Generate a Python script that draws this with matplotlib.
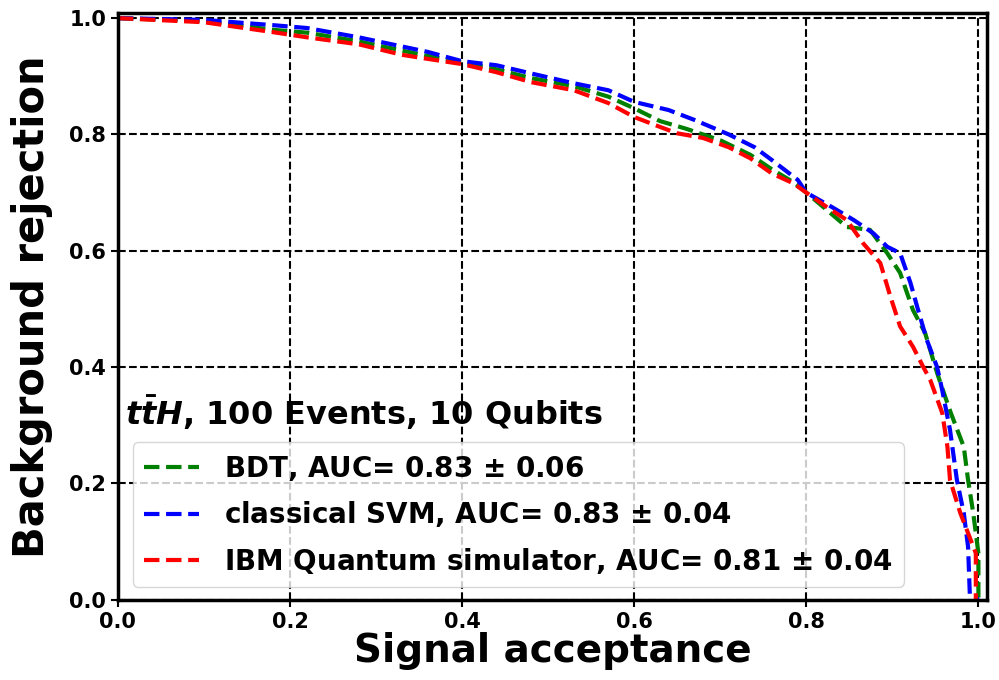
import matplotlib
matplotlib.use("Agg")
import matplotlib.pyplot as plt

plt.rcParams['mathtext.fontset'] = 'custom'
plt.rcParams['mathtext.it'] = 'DejaVu Sans:italic:bold'
plt.rcParams['mathtext.rm'] = 'DejaVu Sans:bold'

# ROC points (signal acceptance, background rejection)
bdt_x = [0, 0.10, 0.18, 0.22, 0.28, 0.36, 0.40, 0.44, 0.48, 0.53, 0.57, 0.60, 0.63, 0.66,
         0.70, 0.735, 0.76, 0.785, 0.80, 0.824, 0.847, 0.874, 0.894, 0.909, 0.924, 0.938,
         0.952, 0.96, 0.968, 0.983, 0.988, 0.994, 1.0, 1.0]
bdt_y = [1.0, 0.995, 0.98, 0.975, 0.96, 0.935, 0.924, 0.912, 0.897, 0.883, 0.865, 0.845,
         0.823, 0.81, 0.79, 0.765, 0.74, 0.718, 0.70, 0.67, 0.641, 0.636, 0.596, 0.562,
         0.498, 0.459, 0.39, 0.355, 0.321, 0.263, 0.206, 0.149, 0.08, 0.0]

svm_x = [0, 0.10, 0.18, 0.22, 0.28, 0.36, 0.40, 0.44, 0.48, 0.53, 0.57, 0.60, 0.64, 0.67,
         0.71, 0.74, 0.76, 0.79, 0.80, 0.83, 0.855, 0.878, 0.894, 0.909, 0.921, 0.929,
         0.94, 0.952, 0.958, 0.967, 0.975, 0.983, 0.988, 0.99, 1.0]
svm_y = [1.0, 0.997, 0.988, 0.983, 0.967, 0.942, 0.926, 0.919, 0.905, 0.888, 0.876, 0.856,
         0.842, 0.825, 0.80, 0.778, 0.756, 0.722, 0.70, 0.675, 0.653, 0.63, 0.607, 0.596,
         0.545, 0.503, 0.447, 0.40, 0.36, 0.292, 0.206, 0.149, 0.091, 0.01, 0.0]

ibm_x = [0, 0.10, 0.18, 0.22, 0.28, 0.33, 0.36, 0.40, 0.44, 0.48, 0.53, 0.57, 0.60, 0.63,
         0.65, 0.68, 0.71, 0.735, 0.76, 0.785, 0.80, 0.824, 0.847, 0.866, 0.886, 0.898,
         0.909, 0.924, 0.936, 0.944, 0.958, 0.964, 0.967, 0.979, 0.991, 0.997, 0.997]
ibm_y = [1.0, 0.993, 0.976, 0.967, 0.955, 0.937, 0.93, 0.921, 0.907, 0.89, 0.876, 0.854,
         0.83, 0.813, 0.802, 0.794, 0.778, 0.759, 0.733, 0.716, 0.70, 0.675, 0.653, 0.613,
         0.579, 0.52, 0.47, 0.435, 0.40, 0.378, 0.321, 0.263, 0.206, 0.149, 0.103, 0.08, 0.0]

labels = ['BDT, AUC= 0.83 $\\pm$ 0.06',
          'classical SVM, AUC= 0.83 $\\pm$ 0.04',
          'IBM Quantum simulator, AUC= 0.81 $\\pm$ 0.04']
colors = ['green', 'blue', 'red']

fig = plt.figure(figsize=(9.99, 6.8), dpi=100)
ax = fig.add_axes([0.118, 0.118, 0.870, 0.863])

for xs, ys, c, lab in zip([bdt_x, svm_x, ibm_x], [bdt_y, svm_y, ibm_y], colors, labels):
    ax.plot(xs, ys, '--', color=c, lw=3, label=lab)

ax.set_xlim(0, 1.01)
ax.set_ylim(0, 1.009)
ax.grid(True, color='black', linestyle='--', lw=1.5)
for s in ax.spines.values():
    s.set_linewidth(2.5)
ax.tick_params(width=1.5, length=5)
for t in ax.get_xticklabels() + ax.get_yticklabels():
    t.set_fontsize(15)
    t.set_fontweight('bold')

ax.set_xlabel('Signal acceptance', fontsize=28, fontweight='bold', labelpad=0)
ax.set_ylabel('Background rejection', fontsize=30, fontweight='bold', labelpad=12)

ax.text(0.008, 0.297, '$t\\bar{t}H$, 100 Events, 10 Qubits', transform=ax.transAxes,
        fontsize=23, fontweight='bold', va='baseline', ha='left')

leg = ax.legend(loc='lower left', bbox_to_anchor=(0.001, -0.002),
                prop={'weight': 'bold', 'size': 20}, labelspacing=0.6,
                handlelength=2.0, handletextpad=0.9)

fig.savefig('out.png', dpi=100)
